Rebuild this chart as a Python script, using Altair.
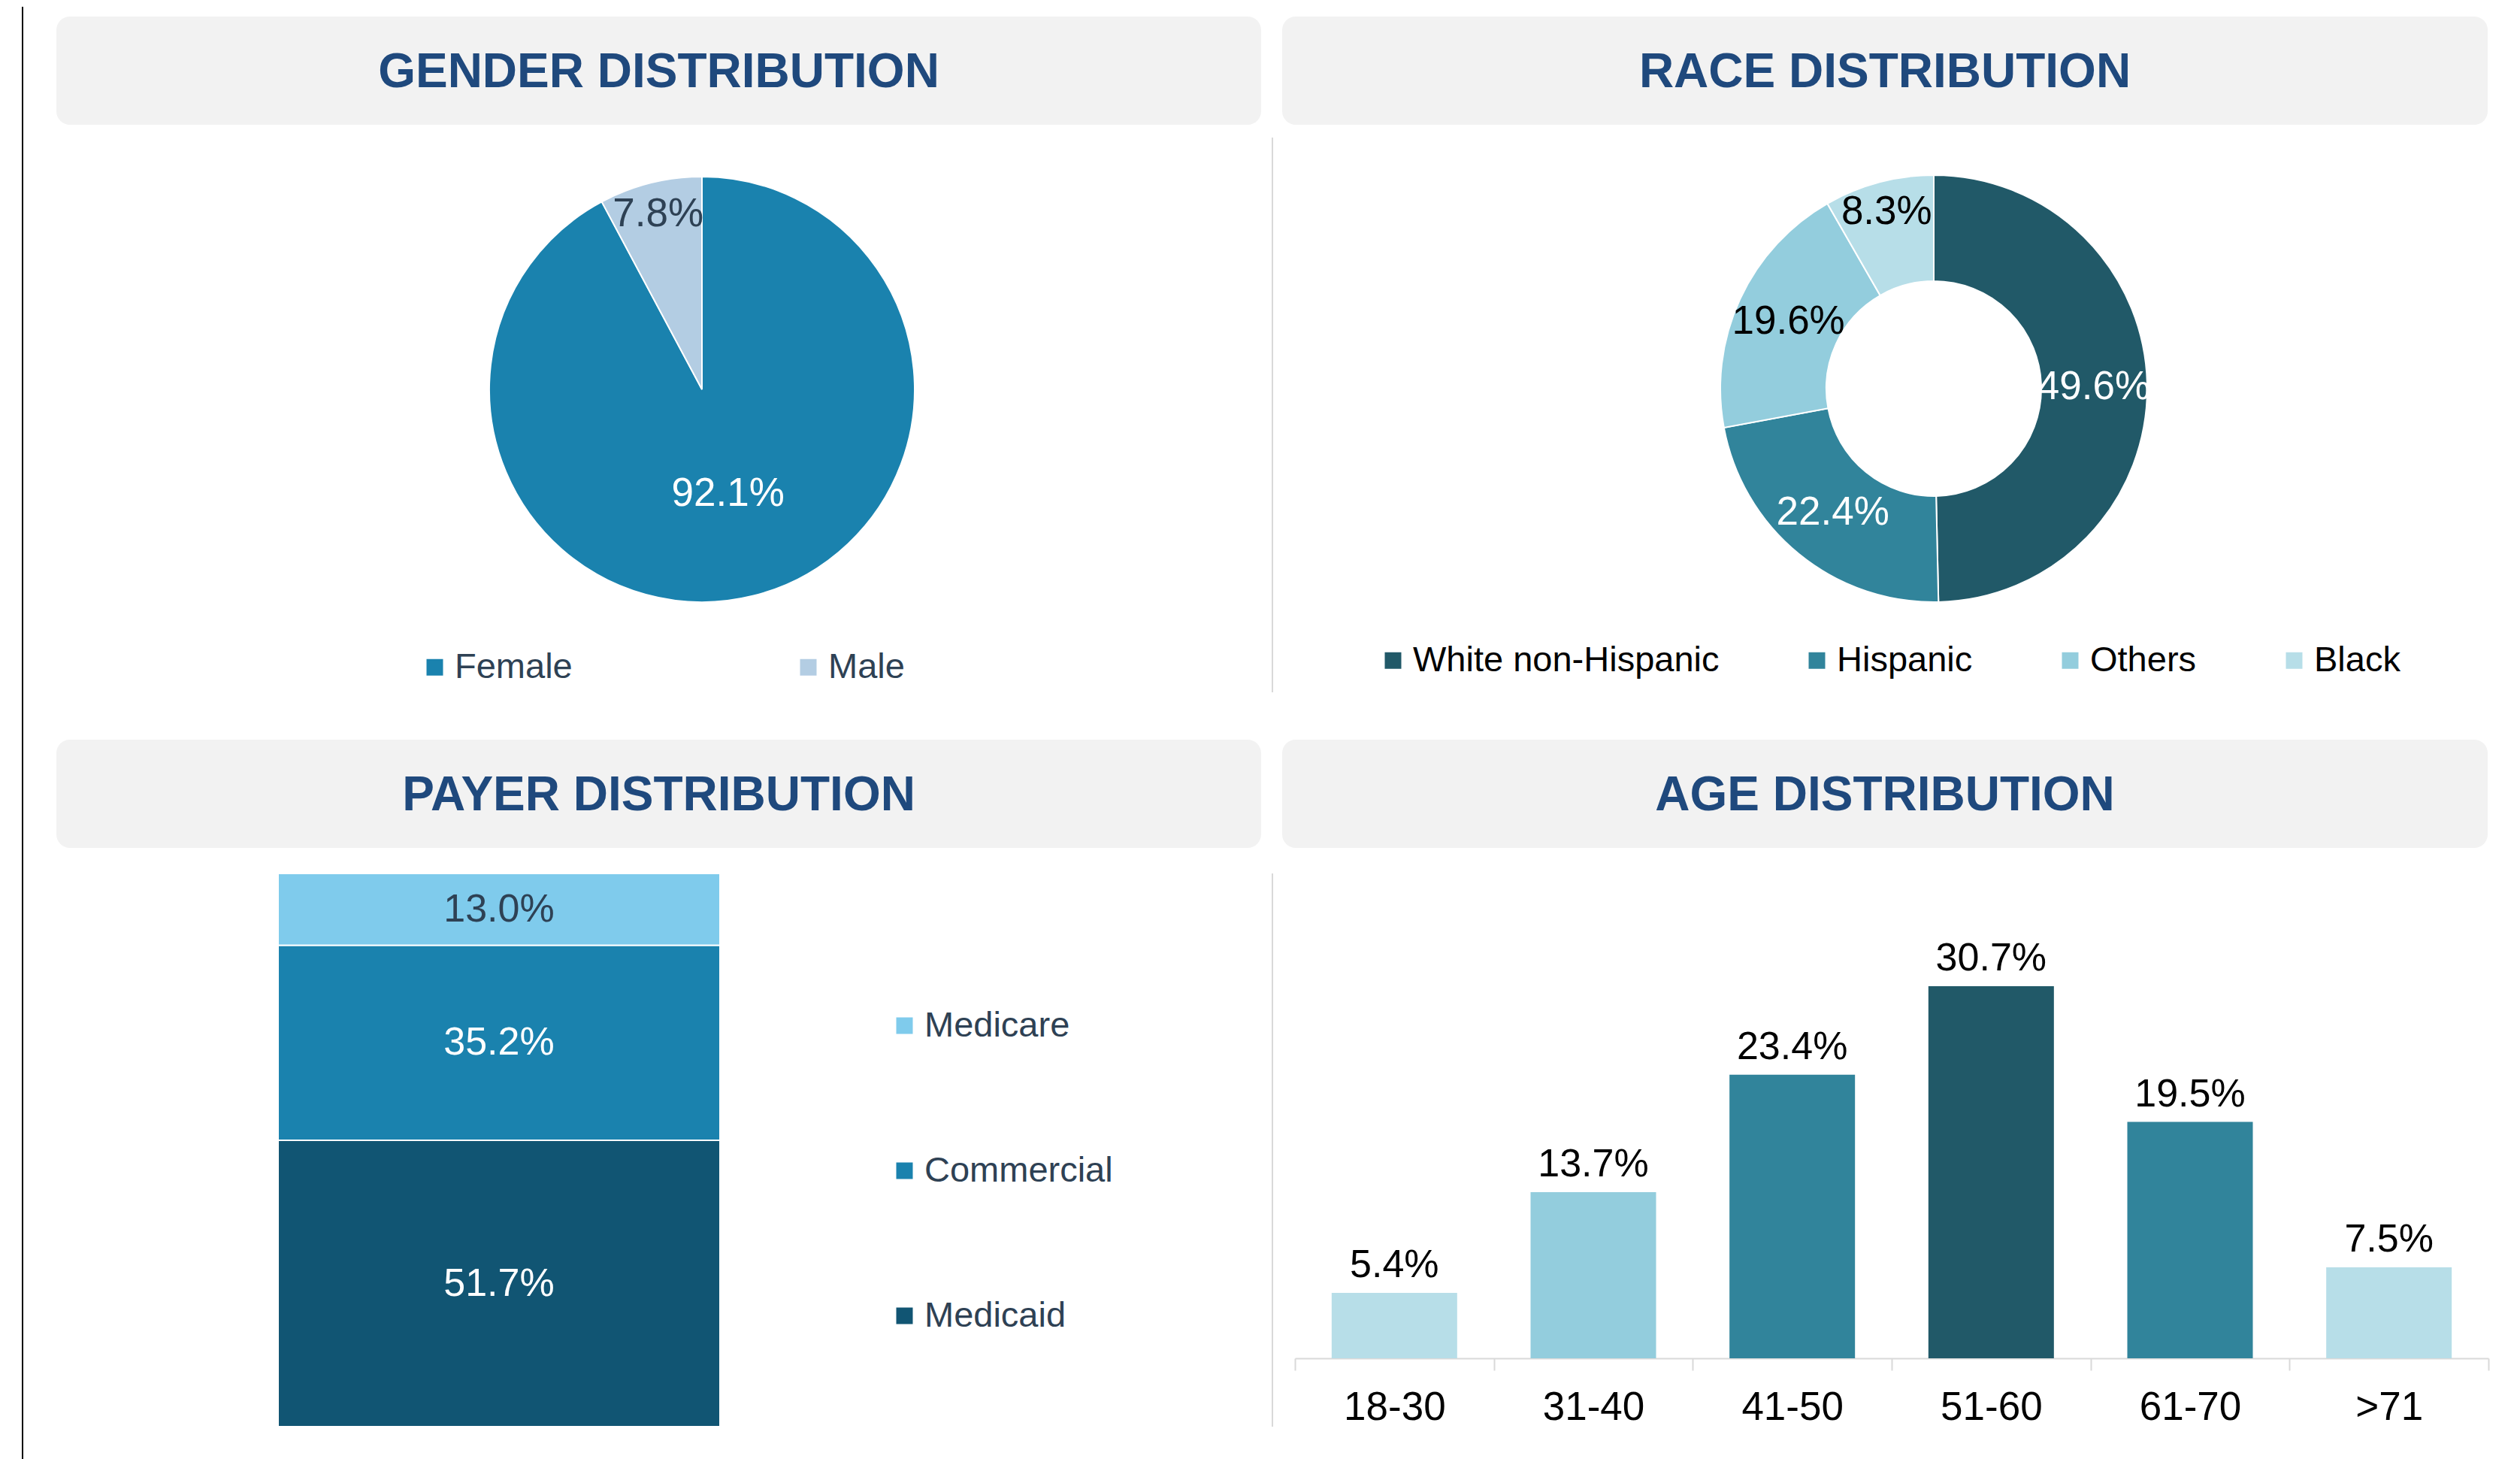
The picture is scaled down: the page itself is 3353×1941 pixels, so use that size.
import math
import altair as alt
import pandas as pd

# ---------------- data ----------------
panel_titles = ["GENDER DISTRIBUTION", "RACE DISTRIBUTION", "PAYER DISTRIBUTION", "AGE DISTRIBUTION"]

gender_cats = ["Female", "Male"]
gender_vals = [92.1, 7.8]

race_cats = ["White non-Hispanic", "Hispanic", "Others", "Black"]
race_vals = [49.6, 22.4, 19.6, 8.3]

payer_cats = ["Medicare", "Commercial", "Medicaid"]
payer_vals = [13.0, 35.2, 51.7]

age_cats = ["18-30", "31-40", "41-50", "51-60", "61-70", ">71"]
age_vals = [5.4, 13.7, 23.4, 30.7, 19.5, 7.5]

# ---------------- style ----------------
FONT = "Liberation Sans"
TITLE_C = "#1f497d"
SLATE = "#2e4154"
BOX = "#f2f2f2"
SEP = "#d9d9d9"

GENDER_COLORS = ["#1a82ae", "#b3cde3"]
GENDER_LABEL_COLORS = ["white", SLATE]
RACE_COLORS = ["#215968", "#31849b", "#93cddd", "#b7dee8"]
RACE_LABEL_COLORS = ["white", "white", "black", "black"]
PAYER_COLORS = ["#7fcbec", "#1a82ae", "#115573"]
PAYER_LABEL_COLORS = [SLATE, "white", "white"]
AGE_COLORS = ["#b7dee8", "#93cddd", "#31849b", "#215968", "#31849b", "#b7dee8"]

LW, RW = 1684, 1653
TOP_H, BOT_H, AGE_H = 962, 963, 836


def one_row():
    return pd.DataFrame({"a": [0]})


def title_layers(title, x0, x1):
    df = pd.DataFrame({"t": [title]})
    box = alt.Chart(df).mark_rect(color=BOX, cornerRadius=18).encode(
        x=alt.value(x0), x2=alt.value(x1), y=alt.value(13), y2=alt.value(157))
    txt = alt.Chart(df).mark_text(font=FONT, fontSize=64, fontWeight="bold", color=TITLE_C,
                                  align="center", baseline="alphabetic").encode(
        text="t:N", x=alt.value((x0 + x1) / 2), y=alt.value(107))
    return [box, txt]


def vrule(x, y0, y1, color, w):
    return alt.Chart(one_row()).mark_rule(color=color, strokeWidth=w).encode(
        x=alt.value(x), y=alt.value(y0), y2=alt.value(y1))


def pie_layers(cats, vals, colors, label_colors, cx, cy, outer, inner, r_in, r_out, small, legend):
    df = pd.DataFrame({"cat": cats, "value": vals, "idx": list(range(len(cats)))})
    df["lc"] = label_colors
    base = alt.Chart(df).transform_stack(
        stack="value", as_=["s0", "s1"], groupby=[],
        sort=[alt.SortField("idx", order="ascending")], offset="normalize"
    ).transform_calculate(
        mid="(datum.s0 + datum.s1) / 2",
        lr=f"datum.value < {small} ? {r_out} : {r_in}",
        label="format(datum.value, '.1f') + '%'",
    )
    th = alt.Scale(domain=[0, 1], range=[0, 2 * math.pi])
    arcs = base.mark_arc(outerRadius=outer, innerRadius=inner, stroke="white", strokeWidth=2).encode(
        theta=alt.Theta("s0:Q", scale=th, stack=None),
        theta2=alt.Theta2("s1"),
        color=alt.Color("cat:N", scale=alt.Scale(domain=cats, range=colors), legend=legend),
        x=alt.value(cx), y=alt.value(cy),
    )
    labels = base.mark_text(font=FONT, fontSize=53, align="center", baseline="middle").encode(
        theta=alt.Theta("mid:Q", scale=th, stack=None),
        radius=alt.Radius("lr:Q", scale=None),
        text="label:N",
        fill=alt.Fill("lc:N", scale=None),
        x=alt.value(cx), y=alt.value(cy),
    )
    return [arcs, labels]


def legend(x, y, color, direction="horizontal", col_pad=100, row_pad=10):
    return alt.Legend(
        orient="none", legendX=x, legendY=y, direction=direction, title=None,
        symbolType="square", symbolSize=484, symbolStrokeWidth=0, symbolOpacity=1,
        labelFont=FONT, labelFontSize=47, labelColor=color, labelOffset=3, labelLimit=2000,
        columnPadding=col_pad, rowPadding=row_pad,
    )


# ---------------- gender panel ----------------
gender = alt.layer(
    vrule(22, 0, TOP_H, "black", 2),
    *title_layers(panel_titles[0], 67, 1670),
    *pie_layers(gender_cats, gender_vals, GENDER_COLORS, GENDER_LABEL_COLORS,
                926, 509, 283, 0, 143, 240, 10,
                legend(547, 855, SLATE, col_pad=290)),
).properties(width=LW, height=TOP_H)

# ---------------- race panel ----------------
race = alt.layer(
    vrule(1, 174, 912, SEP, 2),
    *title_layers(panel_titles[1], 14, 1618),
    *pie_layers(race_cats, race_vals, RACE_COLORS, RACE_LABEL_COLORS,
                881, 508, 284, 143, 213, 243, 10,
                legend(138, 846, "black", col_pad=106)),
).properties(width=RW, height=TOP_H)

# ---------------- payer panel ----------------
pdf = pd.DataFrame({"cat": payer_cats, "value": payer_vals,
                    "pos": list(range(len(payer_cats))), "grp": "Payer"})
pdf["lc"] = PAYER_LABEL_COLORS
pbase = alt.Chart(pdf).transform_stack(
    stack="value", as_=["s0", "s1"], groupby=["grp"],
    sort=[alt.SortField("pos", order="descending")], offset="normalize"
).transform_calculate(
    mid="(datum.s0 + datum.s1) / 2",
    label="format(datum.value, '.1f') + '%'",
)
px = alt.X("grp:N", scale=alt.Scale(range=[362, 950], paddingInner=0, paddingOuter=0), axis=None)
py = alt.Scale(domain=[0, 1], range=[927, 191])
pbars = pbase.mark_bar(stroke="white", strokeWidth=2).encode(
    x=px,
    y=alt.Y("s0:Q", scale=py, axis=None),
    y2=alt.Y2("s1"),
    color=alt.Color("cat:N", scale=alt.Scale(domain=payer_cats, range=PAYER_COLORS),
                    legend=legend(1172, 370, SLATE, direction="vertical", row_pad=145)),
)
plabels = pbase.mark_text(font=FONT, fontSize=52, align="center", baseline="middle").encode(
    x=px,
    y=alt.Y("mid:Q", scale=py, axis=None),
    text="label:N",
    fill=alt.Fill("lc:N", scale=None),
)
payer = alt.layer(
    vrule(22, 0, BOT_H + 8, "black", 2),
    *title_layers(panel_titles[2], 67, 1670),
    pbars, plabels,
).properties(width=LW, height=BOT_H)

# ---------------- age panel ----------------
adf = pd.DataFrame({"age": age_cats, "value": age_vals})
abase = alt.Chart(adf).transform_calculate(
    label="format(datum.value, '.1f') + '%'"
).encode(
    x=alt.X("age:N", sort=age_cats,
            scale=alt.Scale(range=[31, 1619], paddingInner=0, paddingOuter=0),
            axis=alt.Axis(title=None, labelAngle=0, labelFont=FONT, labelFontSize=53,
                          labelColor="black", labelPadding=23, domainColor=SEP, domainWidth=2,
                          tickColor=SEP, tickWidth=2, tickSize=16, tickBand="extent", grid=False)),
    y=alt.Y("value:Q", scale=alt.Scale(domain=[0, 40], range=[AGE_H, 191]), axis=None),
)
abars = abase.mark_bar(width=alt.RelativeBandSize(0.631)).encode(
    color=alt.Color("age:N", scale=alt.Scale(domain=age_cats, range=AGE_COLORS), legend=None))
atext = abase.mark_text(font=FONT, fontSize=52, baseline="alphabetic", align="center",
                        dy=-21, color="black").encode(text="label:N")
age = alt.layer(
    vrule(1, 191, 927, SEP, 2),
    *title_layers(panel_titles[3], 14, 1618),
    abars, atext,
).properties(width=RW, height=AGE_H)

indep = dict(color="independent", x="independent", y="independent",
             theta="independent", radius="independent")

chart = alt.concat(gender, race, payer, age, columns=2, spacing=0, bounds="flush").resolve_scale(
    **indep
).resolve_legend(color="independent").properties(padding=0).configure(
    font=FONT
).configure_view(stroke=None, strokeWidth=0)

chart.save("out.html", embed_options={"renderer": "svg", "actions": False})
